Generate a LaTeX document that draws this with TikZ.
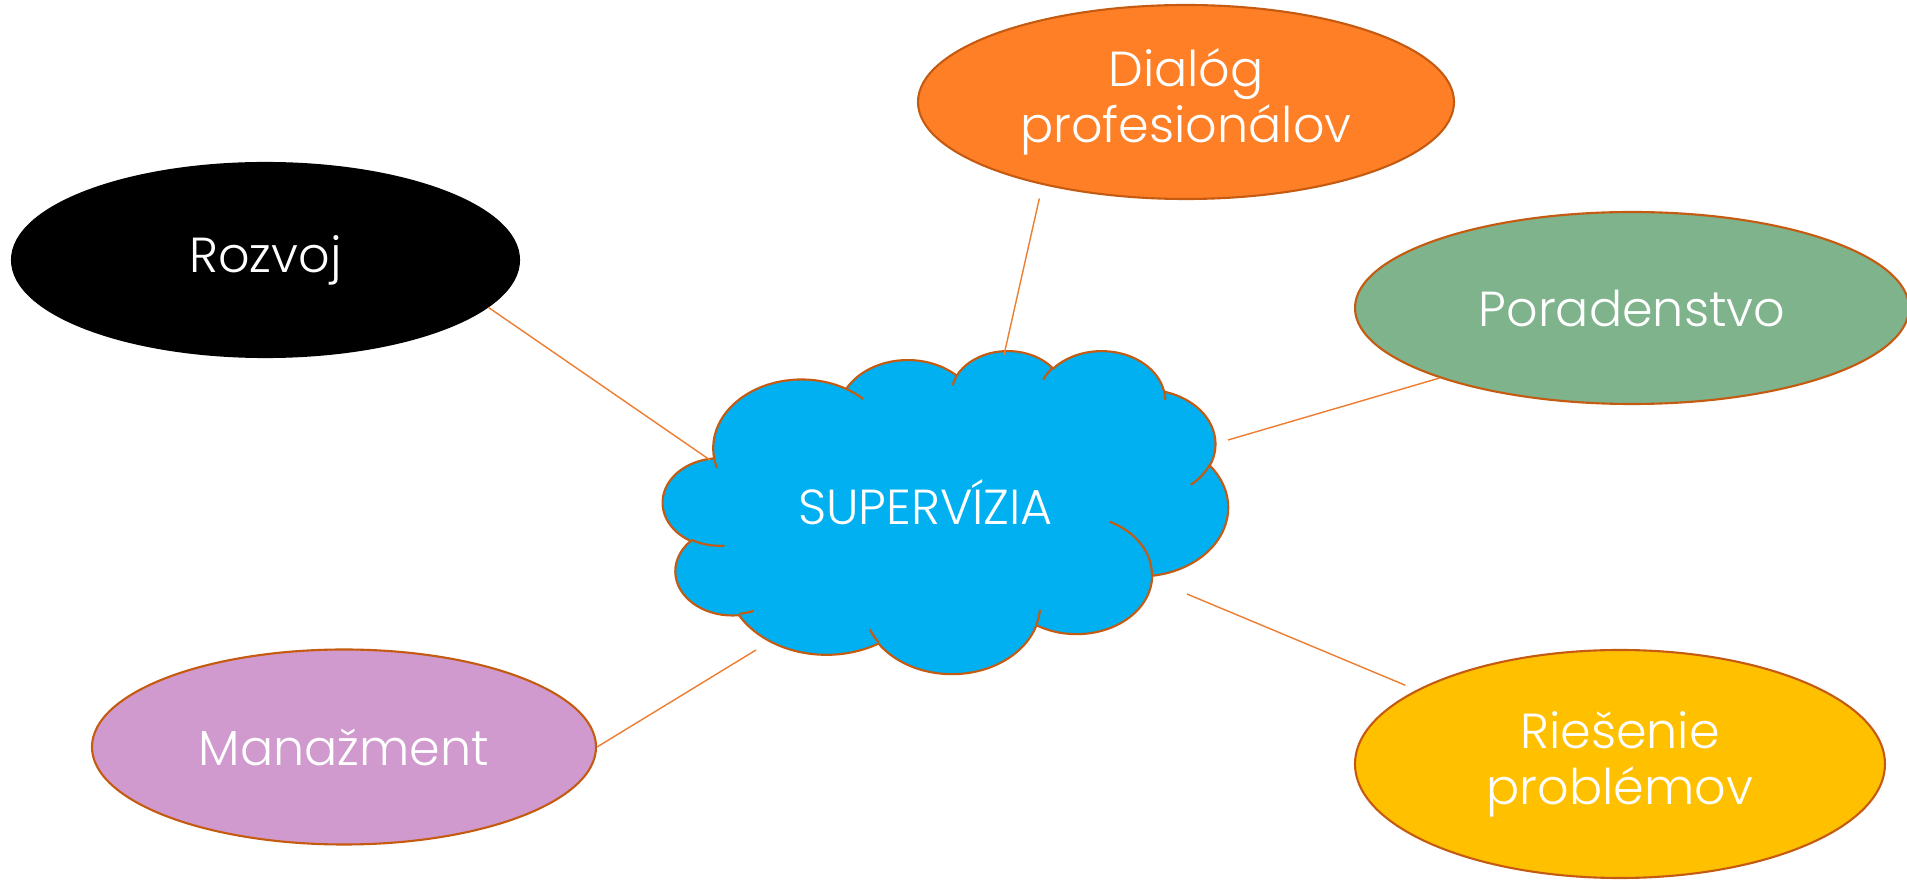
\documentclass[tikz,border=0pt]{standalone}
\usepackage{fontspec}
\setmainfont{Poppins}[UprightFont={* Light}]
\usetikzlibrary{shapes.geometric}

\definecolor{edgebrown}{HTML}{C55A11}
\definecolor{wireorange}{HTML}{ED7D31}
\definecolor{cloudblue}{HTML}{00B0F0}
\definecolor{dialogorange}{HTML}{FF7F27}
\definecolor{poradgreen}{HTML}{7EB38C}
\definecolor{manazpurple}{HTML}{D19ACE}
\definecolor{riesyellow}{HTML}{FFC000}

\tikzset{
  topic/.style={ellipse, draw=edgebrown, line width=0.6pt, inner sep=0pt, text=white,
    align=center, font=\fontsize{14}{16}\selectfont},
  link/.style={wireorange, line width=0.4pt}
}

\begin{document}
\begin{tikzpicture}
    \useasboundingbox (0,0) rectangle (19.07,-8.81);

    % cloud outline, Office cloud geometry (43.2 x 43.2 units)
    \begin{scope}[xshift=6.63cm, yshift=-3.5cm, x=0.13079cm, y=-0.074769cm]
        \draw[edgebrown, fill=cloudblue, line width=0.6pt] (3.9,14.37)
            \foreach \w/\h/\s/\d in {6.753/9.19/-190.4875/123.7805, 5.333/7.267/-144.1024/89.9452,
                4.365/5.945/-145.8079/99.723, 4.857/6.595/-130.9861/117.2417,
                5.333/7.273/-78.7089/109.0269, 6.775/9.22/-46.2673/130.269,
                5.785/7.867/0.625/114.0333, 6.752/9.215/22.4516/115.1726,
                7.72/10.543/66.2426/75.711, 4.36/5.918/-274.9421/146.7356,
                4.345/5.945/-246.8285/152.5189}
            { arc[x radius=\w, y radius=\h, start angle={atan2(\w*sin(\s),\h*cos(\s))},
                  delta angle={mod(atan2(\w*sin(\s+\d),\h*cos(\s+\d))-atan2(\w*sin(\s),\h*cos(\s))+720,360)}] }
            -- cycle;
        % inner folds
        \draw[edgebrown, line width=0.6pt]
            \foreach \px/\py/\w/\h/\s/\d in {4.693/26.177/4.345/5.945/86.742/26.4295,
                6.928/34.899/4.36/5.918/73.6105/11.4475, 16.478/39.09/6.752/9.215/137.6242/14.0811,
                28.827/34.751/6.752/9.215/6.4533/15.9984, 34.129/22.954/5.785/7.867/-70.2924/70.9174,
                41.798/15.354/5.333/7.273/30.318/27.7515, 38.324/5.426/4.857/6.595/-13.7443/14.8589,
                29.078/3.952/4.857/6.595/-149.1815/18.1954, 22.141/4.72/4.365/5.945/-163.4943/17.6864,
                14/5.192/6.753/9.19/-66.707/12.3194, 4.127/15.789/6.753/9.19/157.6544/11.8582}
            { (\px,\py) arc[x radius=\w, y radius=\h, start angle={atan2(\w*sin(\s),\h*cos(\s))},
                  delta angle={mod(atan2(\w*sin(\s+\d),\h*cos(\s+\d))-atan2(\w*sin(\s),\h*cos(\s))+720,360)}] };
    \end{scope}

    \node[text=white, font=\fontsize{14}{16}\selectfont] (sup) at (9.256,-5.02) {SUPERVÍZIA};

    \node[topic, draw=black, fill=black, minimum width=5.07cm, minimum height=1.94cm] (rozvoj) at (2.655,-2.60) {Rozvoj};
    \node[topic, fill=dialogorange, minimum width=5.36cm, minimum height=1.94cm] (dialog) at (11.86,-1.02) {Dialóg\\profesionálov};
    \node[topic, fill=poradgreen, minimum width=5.54cm, minimum height=1.92cm] (porad) at (16.32,-3.08) {Poradenstvo};
    \node[topic, fill=manazpurple, minimum width=5.04cm, minimum height=1.95cm] (manaz) at (3.44,-7.47) {Manažment};
    \node[topic, fill=riesyellow, minimum width=5.30cm, minimum height=2.28cm] (ries) at (16.20,-7.64) {Riešenie\\problémov};

    \coordinate (c-rozvoj) at (7.10,-4.60);
    \coordinate (c-dialog) at (10.04,-3.55);
    \coordinate (c-porad) at (12.28,-4.40);
    \coordinate (c-manaz) at (7.56,-6.50);
    \coordinate (c-ries) at (11.87,-5.94);

    \draw[link] (rozvoj.-12) -- (c-rozvoj);
    \draw[link, shorten <=0.14cm] (dialog.-150) -- (c-dialog);
    \draw[link] (porad.-160) -- (c-porad);
    \draw[link] (manaz.east) -- (c-manaz);
    \draw[link, shorten <=0.12cm] (ries.160) -- (c-ries);
\end{tikzpicture}
\end{document}
